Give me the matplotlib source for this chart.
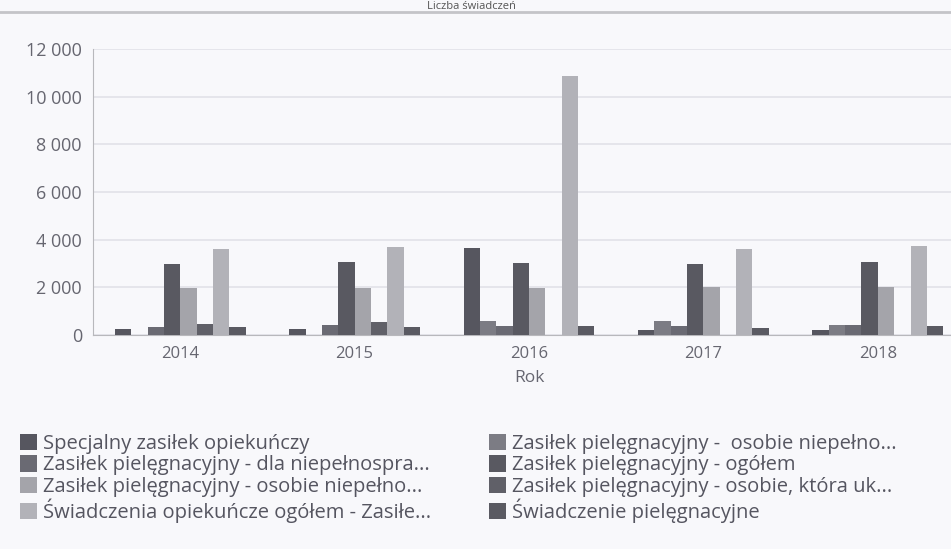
import numpy as np
import matplotlib.pyplot as plt
from matplotlib.ticker import FuncFormatter
from matplotlib.patches import Patch
from matplotlib.lines import Line2D

plt.rcParams['font.family'] = ['Open Sans', 'DejaVu Sans']

# Data
years = ['2014', '2015', '2016', '2017', '2018']
series_names = [
    'Specjalny zasiłek opiekuńczy',
    'Zasiłek pielęgnacyjny -  osobie niepełno...',
    'Zasiłek pielęgnacyjny - dla niepełnospra...',
    'Zasiłek pielęgnacyjny - ogółem',
    'Zasiłek pielęgnacyjny - osobie niepełno...',
    'Zasiłek pielęgnacyjny - osobie, która uk...',
    'Świadczenia opiekuńcze ogółem - Zasiłe...',
    'Świadczenie pielęgnacyjne',
]
specjalny = [270, 270, 3670, 230, 210]
zp_osobie_niepelno_2 = [0, 0, 570, 570, 440]
zp_dla_niepelnospr = [340, 400, 390, 365, 440]
zp_ogolem = [2980, 3050, 3030, 2970, 3070]
zp_osobie_niepelno = [1980, 1980, 1980, 2000, 2000]
zp_75 = [480, 540, 0, 0, 0]
sw_opiekuncze_ogolem = [3590, 3690, 10850, 3590, 3740]
sw_pielegnacyjne = [330, 320, 360, 300, 360]

values = [specjalny, zp_osobie_niepelno_2, zp_dla_niepelnospr, zp_ogolem,
          zp_osobie_niepelno, zp_75, sw_opiekuncze_ogolem, sw_pielegnacyjne]
colors = ['#56565f', '#7c7c84', '#6a6a73', '#595961',
          '#a4a4aa', '#606068', '#b2b2b8', '#5a5a62']

bg = '#f8f8fb'
fig = plt.figure(figsize=(9.51, 5.49), dpi=100, facecolor=bg)
ax = fig.add_axes([93 / 951, 214 / 549, 872 / 951, 286 / 549], facecolor=bg)

x = np.arange(len(years))
n = len(values)
w = 0.75 / n
for i, (vals, c) in enumerate(zip(values, colors)):
    ax.bar(x - 0.375 + w * (i + 0.5), vals, width=w, color=c, zorder=3)

ax.set_xlim(-0.5, 4.5)
ax.set_ylim(0, 12000)
ax.set_yticks(range(0, 12001, 2000))
ax.yaxis.set_major_formatter(FuncFormatter(lambda v, p: f'{int(v):,}'.replace(',', ' ')))
ax.set_xticks(x)
ax.set_xticklabels(years)
ax.grid(axis='y', color='#e2e2e8', lw=1.2, zorder=0)
for s in ['top', 'right']:
    ax.spines[s].set_visible(False)
ax.spines['left'].set_color('#b8b8bc')
ax.spines['bottom'].set_color('#b8b8bc')
ax.tick_params(length=0, labelcolor='#666670', pad=8)
ax.tick_params(axis='y', labelsize=13)
ax.tick_params(axis='x', labelsize=12)
ax.set_xlabel('Rok', fontsize=12.5, color='#666670', labelpad=6)

# title strip at the top (mostly cut off in the original)
fig.text(471 / 951, 1 - 1 / 549, 'Liczba świadczeń', ha='center', va='top',
         fontsize=8, color='#555')
fig.add_artist(Line2D([0, 1], [1 - 12 / 549] * 2, color='#c4c4c8', lw=2))

handles = [Patch(facecolor=c, edgecolor='none') for c in colors]
left = [0, 2, 4, 6]
right = [1, 3, 5, 7]
for idx, xpos in [(left, 12 / 951), (right, 481 / 951)]:
    leg = fig.legend([handles[i] for i in idx], [series_names[i] for i in idx],
                     loc='upper left', bbox_to_anchor=(xpos, 1 - 426 / 549),
                     frameon=False, fontsize=14.5, handlelength=0.85, handleheight=0.85,
                     handletextpad=0.3, labelspacing=0.07, borderaxespad=0)
    for t in leg.get_texts():
        t.set_color('#555560')

fig.savefig('out.png', dpi=100, facecolor=bg)
